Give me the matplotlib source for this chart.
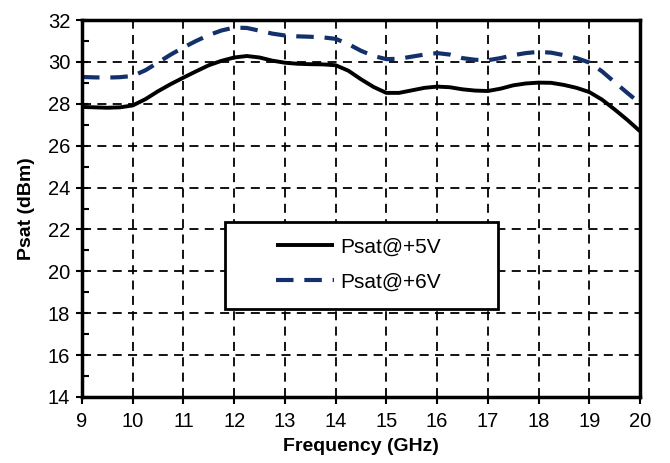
import matplotlib
matplotlib.use("Agg")
import matplotlib.pyplot as plt
from matplotlib.ticker import MultipleLocator
from matplotlib.patches import Rectangle

plt.rcParams['font.family'] = ['Liberation Sans', 'DejaVu Sans']

freq = [9, 9.25, 9.5, 9.75, 10, 10.25, 10.5, 10.75, 11, 11.25, 11.5, 11.75,
        12, 12.25, 12.5, 12.75, 13, 13.25, 13.5, 13.75, 14, 14.25, 14.5, 14.75,
        15, 15.25, 15.5, 15.75, 16, 16.25, 16.5, 16.75, 17, 17.25, 17.5, 17.75,
        18, 18.25, 18.5, 18.75, 19, 19.25, 19.5, 19.75, 20]
psat_5v = [27.85, 27.83, 27.81, 27.83, 27.92, 28.22, 28.6, 28.94, 29.25, 29.55, 29.84, 30.05,
           30.21, 30.28, 30.21, 30.06, 29.96, 29.91, 29.89, 29.88, 29.84, 29.58, 29.17, 28.8,
           28.52, 28.52, 28.64, 28.76, 28.82, 28.79, 28.69, 28.63, 28.61, 28.72, 28.88, 28.97,
           29.01, 29.0, 28.9, 28.76, 28.56, 28.2, 27.73, 27.23, 26.69]
psat_6v = [29.28, 29.26, 29.25, 29.27, 29.33, 29.6, 29.97, 30.35, 30.69, 31.0, 31.28, 31.5,
           31.64, 31.62, 31.49, 31.35, 31.26, 31.22, 31.2, 31.17, 31.1, 30.85, 30.53, 30.28,
           30.13, 30.15, 30.25, 30.35, 30.42, 30.35, 30.18, 30.1, 30.08, 30.18, 30.32, 30.42,
           30.48, 30.44, 30.32, 30.18, 29.97, 29.55, 29.03, 28.52, 28.02]
labels = ["Psat@+5V", "Psat@+6V"]
xticks = list(range(9, 21))
yticks = list(range(14, 33, 2))

fig = plt.figure(figsize=(6.7, 4.63), dpi=100)
ax = fig.add_axes([82/670, 1-397/463, 558/670, 377/463])

ax.plot(freq, psat_5v, color='black', lw=2.8, label=labels[0],
        solid_capstyle='butt', solid_joinstyle='round')
ax.plot(freq, psat_6v, color='#13306b', lw=3.0, label=labels[1],
        dashes=(4.2, 2.6), dash_capstyle='butt', dash_joinstyle='round')

ax.set_xlim(9, 20)
ax.set_ylim(14, 32)
ax.set_xticks(xticks)
ax.set_yticks(yticks)
ax.yaxis.set_minor_locator(MultipleLocator(1))
ax.grid(True, which='major', color='black', linestyle=(0, (5, 3.5)), lw=1.3)

for s in ax.spines.values():
    s.set_linewidth(2.5)

ax.tick_params(axis='both', which='major', labelsize=14.5, width=1.5)
ax.tick_params(axis='y', which='major', direction='inout', length=9, pad=4)
ax.tick_params(axis='x', which='major', direction='out', length=5, pad=6)
ax.tick_params(axis='y', which='minor', direction='in', length=5, width=1.5)

ax.set_xlabel('Frequency (GHz)', fontsize=14, fontweight='bold', labelpad=5)
ax.set_ylabel('Psat (dBm)', fontsize=14, fontweight='bold', labelpad=9)

# legend frame box
box = Rectangle((0.2563, 0.2334), 0.4892, 0.2308, transform=ax.transAxes,
                facecolor='white', edgecolor='black', lw=2, zorder=3)
ax.add_patch(box)

leg = ax.legend(loc='center', bbox_to_anchor=(0.4955, 0.3515), fontsize=15,
                frameon=False, handlelength=2.75, handletextpad=0.3,
                labelspacing=0.75, borderpad=0, borderaxespad=0)
leg.set_zorder(4)

fig.savefig('out.png', dpi=100)
